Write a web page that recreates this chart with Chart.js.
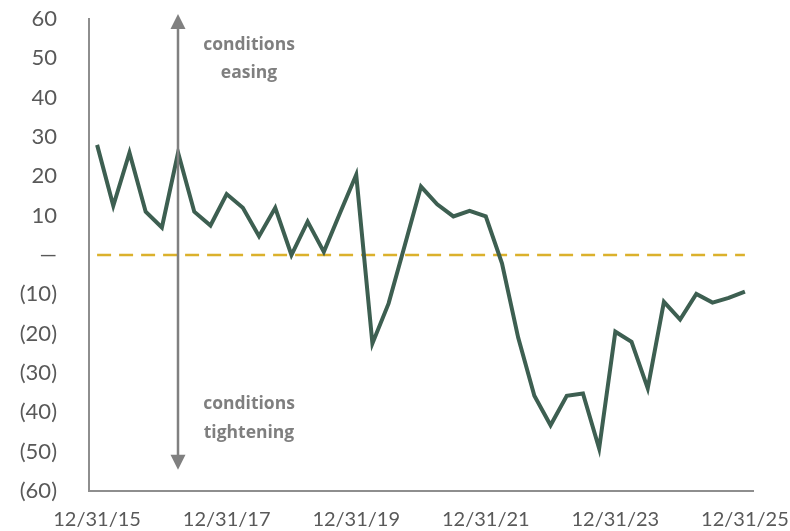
<!DOCTYPE html>
<html>
<head>
<meta charset="utf-8">
<script src="https://cdn.jsdelivr.net/npm/chart.js@4.4.1/dist/chart.umd.min.js"></script>
<style>
  html, body { margin: 0; padding: 0; background: #ffffff; }
  #wrap { width: 790px; height: 531px; position: relative; }
</style>
</head>
<body>
<div id="wrap"><canvas id="c" width="790" height="531"></canvas></div>
<script>
// Quarter-end dates
const quarters = [
  "12/31/15","3/31/16","6/30/16","9/30/16","12/31/16",
  "3/31/17","6/30/17","9/30/17","12/31/17",
  "3/31/18","6/30/18","9/30/18","12/31/18",
  "3/31/19","6/30/19","9/30/19","12/31/19",
  "3/31/20","6/30/20","9/30/20","12/31/20",
  "3/31/21","6/30/21","9/30/21","12/31/21",
  "3/31/22","6/30/22","9/30/22","12/31/22",
  "3/31/23","6/30/23","9/30/23","12/31/23",
  "3/31/24","6/30/24","9/30/24","12/31/24",
  "3/31/25","6/30/25","9/30/25","12/31/25"
];
// Net lending conditions index
const indexValues = [
  28, 12.5, 26, 11, 7,
  26, 11, 7.5, 15.5,
  12, 4.8, 12, 0,
  8.5, 0.8, 10.7, 20.4,
  -22.5, -12.3, 2.5, 17.4,
  12.9, 9.8, 11.2, 9.8,
  -2.1, -21, -35.8, -43.3,
  -35.8, -35.2, -49.2, -19.5,
  -22.1, -33.9, -11.9, -16.4,
  -9.9, -12.1, -10.9, -9.3
];
const zeroLine = quarters.map(() => 0);
const shownXTicks = ["12/31/15","12/31/17","12/31/19","12/31/21","12/31/23","12/31/25"];
const yTickValues = [60,50,40,30,20,10,0,-10,-20,-30,-40,-50,-60];
const easingText = ["conditions", "easing"];
const tighteningText = ["conditions", "tightening"];

const FONT = "Lato, 'Open Sans', sans-serif";
const NOTE_FONT = "'Open Sans', 'Liberation Sans', sans-serif";
const GREY_TXT = "#7f7f7f";

const annotationPlugin = {
  id: 'arrowNotes',
  afterDraw(chart) {
    const ctx = chart.ctx;
    const xs = chart.scales.x, ys = chart.scales.y;
    const ax = Math.round(xs.getPixelForValue(5));
    const yTop = ys.getPixelForValue(61.3);
    const yBot = ys.getPixelForValue(-54.6);
    const head = 15, hw = 7.5;
    ctx.save();
    ctx.strokeStyle = "#808080";
    ctx.fillStyle = "#808080";
    ctx.lineWidth = 2.5;
    ctx.beginPath();
    ctx.moveTo(ax, yTop + head - 1);
    ctx.lineTo(ax, yBot - head + 1);
    ctx.stroke();
    ctx.beginPath();
    ctx.moveTo(ax, yTop);
    ctx.lineTo(ax - hw, yTop + head);
    ctx.lineTo(ax + hw, yTop + head);
    ctx.closePath();
    ctx.fill();
    ctx.beginPath();
    ctx.moveTo(ax, yBot);
    ctx.lineTo(ax - hw, yBot - head);
    ctx.lineTo(ax + hw, yBot - head);
    ctx.closePath();
    ctx.fill();

    ctx.fillStyle = GREY_TXT;
    ctx.font = "bold 17.5px " + NOTE_FONT;
    ctx.textAlign = "center";
    ctx.textBaseline = "middle";
    const tx = 249;
    ctx.fillText(easingText[0], tx, ys.getPixelForValue(53.4));
    ctx.fillText(easingText[1], tx, ys.getPixelForValue(46.3));
    ctx.fillText(tighteningText[0], tx, ys.getPixelForValue(-37.9));
    ctx.fillText(tighteningText[1], tx, ys.getPixelForValue(-45.3));
    ctx.restore();
  }
};

new Chart(document.getElementById('c'), {
  type: 'line',
  data: {
    labels: quarters,
    datasets: [
      {
        data: zeroLine,
        borderColor: "#dbb12c",
        borderWidth: 2.5,
        borderDash: [14, 8],
        pointRadius: 0,
        tension: 0,
        order: 2
      },
      {
        data: indexValues,
        borderColor: "#3d5f51",
        borderWidth: 4,
        pointRadius: 0,
        tension: 0,
        borderJoinStyle: 'miter',
        order: 1
      }
    ]
  },
  options: {
    responsive: false,
    animation: false,
    devicePixelRatio: 1,
    layout: { padding: { top: 19, right: 37, left: 0, bottom: 0 } },
    plugins: { legend: { display: false }, tooltip: { enabled: false } },
    scales: {
      x: {
        type: 'category',
        offset: true,
        grid: { display: false, drawTicks: false },
        border: { display: true, color: "#8e8e8e", width: 2 },
        ticks: {
          autoSkip: false,
          maxRotation: 0,
          padding: 17,
          color: "#595959",
          font: { family: FONT, size: 20 },
          callback: function(v, i) {
            const l = quarters[i];
            return shownXTicks.includes(l) ? l : '';
          }
        },
        afterFit(s) { s.height = 40; s.paddingRight = 0; s.paddingLeft = 0; }
      },
      y: {
        min: -60, max: 60,
        grid: { display: false, drawTicks: false },
        border: { display: true, color: "#8e8e8e", width: 2 },
        afterBuildTicks(s) { s.ticks = yTickValues.map(v => ({ value: v })); },
        ticks: {
          padding: 32,
          color: "#595959",
          font: { family: FONT, size: 22 },
          callback: function(v) {
            if (v === 0) return '—';
            return v < 0 ? '(' + (-v) + ')' : String(v);
          }
        },
        afterFit(s) { s.width = 89; s.paddingTop = 0; s.paddingBottom = 0; }
      }
    }
  },
  plugins: [annotationPlugin]
});
</script>
</body>
</html>
